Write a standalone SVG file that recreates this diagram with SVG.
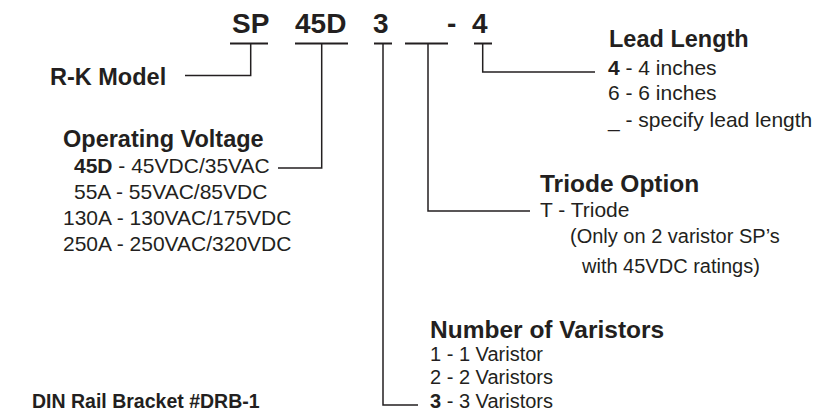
<svg xmlns="http://www.w3.org/2000/svg" width="825" height="415" viewBox="0 0 825 415">
<style>
text{font-family:"Liberation Sans",Arial,sans-serif;fill:#231f20}
.code{font-size:28px;font-weight:bold}
.h{font-size:23.5px;font-weight:bold}
.h2{font-size:24.5px;font-weight:bold}
.h3{font-size:19.5px;font-weight:bold}
.t{font-size:21px}
.s{font-size:20px}
.b{font-weight:bold}
.ln{stroke:#231f20;stroke-width:1.5;fill:none}
.ul{stroke:#231f20;stroke-width:2;fill:none}
</style>
<rect width="825" height="415" fill="#fff"/>
<g id="code">
<text class="code" x="232" y="33">SP</text>
<text class="code" x="295" y="33">45D</text>
<text class="code" x="373" y="33">3</text>
<text class="code" x="447" y="33">-</text>
<text class="code" x="472" y="33">4</text>
</g>
<g id="connectors">
<path class="ul" d="M230 43.5H268M295 43.5H348M374 43.5H392M405 43.5H448M474 43.5H492"/>
<path class="ln" d="M250.7 43.5V75.5H185"/>
<path class="ln" d="M321.7 43.5V168H278"/>
<path class="ln" d="M383 43.5V405H418"/>
<path class="ln" d="M428 43.5V211H530"/>
<path class="ln" d="M482.7 43.5V72H595"/>
</g>
<g id="rk-model">
<text class="h" x="50" y="85">R-K Model</text>
</g>
<g id="operating-voltage">
<text class="h" x="63" y="147">Operating Voltage</text>
<text class="t" x="74" y="173"><tspan class="b">45D</tspan> - 45VDC/35VAC</text>
<text class="t" x="74" y="199">55A - 55VAC/85VDC</text>
<text class="t" x="63" y="225">130A - 130VAC/175VDC</text>
<text class="t" x="63" y="251">250A - 250VAC/320VDC</text>
</g>
<g id="lead-length">
<text class="h" x="609" y="47">Lead Length</text>
<text class="t" x="608" y="75"><tspan class="b">4</tspan> - 4 inches</text>
<text class="t" x="608" y="100">6 - 6 inches</text>
<text class="t" x="608" y="127">_ - specify lead length</text>
</g>
<g id="triode-option">
<text class="h2" x="540" y="192">Triode Option</text>
<text class="t" x="540" y="217">T - Triode</text>
<text class="s" x="570" y="243">(Only on 2 varistor SP’s</text>
<text class="s" x="582" y="273">with 45VDC ratings)</text>
</g>
<g id="number-of-varistors">
<text class="h2" x="430" y="338">Number of Varistors</text>
<text class="s" x="430" y="361">1 - 1 Varistor</text>
<text class="s" x="430" y="384">2 - 2 Varistors</text>
<text class="s" x="430" y="408"><tspan class="b">3</tspan> - 3 Varistors</text>
</g>
<g id="din-rail">
<text class="h3" x="32" y="408">DIN Rail Bracket #DRB-1</text>
</g>
</svg>
